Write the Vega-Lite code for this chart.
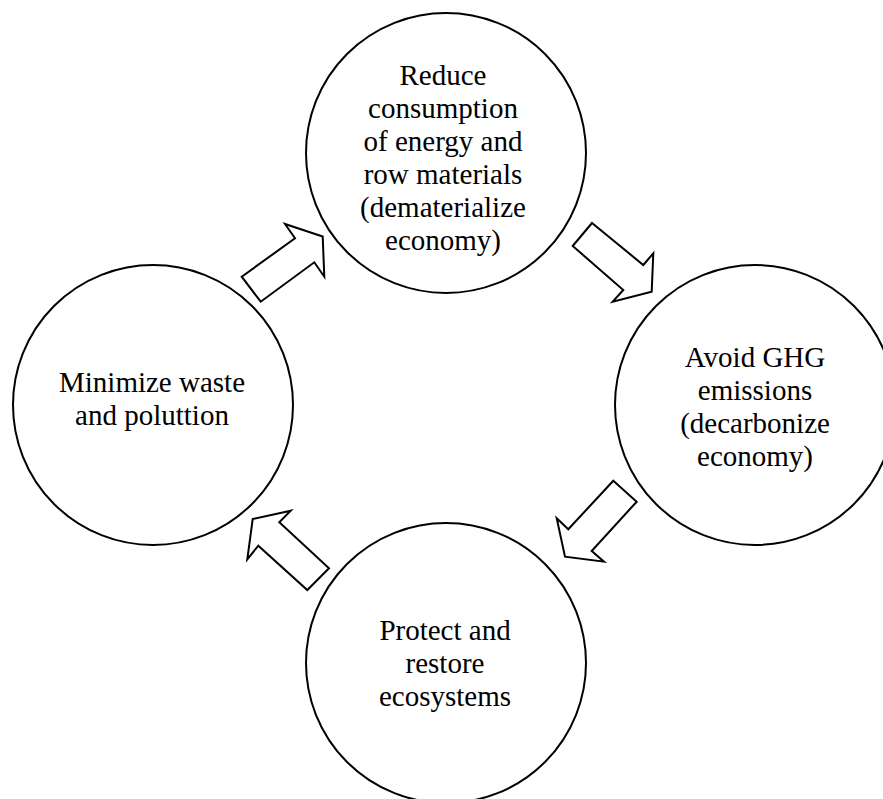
{
  "$schema": "https://vega.github.io/schema/vega-lite/v6.json",
  "width": 883,
  "height": 799,
  "autosize": {"type": "fit", "contains": "padding"},
  "padding": 0,
  "background": "white",
  "config": {"view": {"stroke": null}},
  "datasets": {
    "circles": [
      {"label": "Reduce\nconsumption\nof energy and\nrow materials\n(dematerialize\neconomy)", "x": 446, "y": 153, "tx": 443, "ty": 85},
      {"label": "Avoid GHG\nemissions\n(decarbonize\neconomy)", "x": 755, "y": 405, "tx": 755, "ty": 367},
      {"label": "Protect and\nrestore\necosystems", "x": 446, "y": 663, "tx": 445, "ty": 639.5},
      {"label": "Minimize waste\nand poluttion", "x": 153, "y": 405, "tx": 152, "ty": 392}
    ],
    "arrows": [
      {"arrow": "a1", "i": 0, "x": 241.7, "y": 276.7},
      {"arrow": "a1", "i": 1, "x": 295, "y": 238.3},
      {"arrow": "a1", "i": 2, "x": 285, "y": 224},
      {"arrow": "a1", "i": 3, "x": 322.7, "y": 236.5},
      {"arrow": "a1", "i": 4, "x": 324.3, "y": 276.7},
      {"arrow": "a1", "i": 5, "x": 314.3, "y": 262.3},
      {"arrow": "a1", "i": 6, "x": 260.7, "y": 301.7},
      {"arrow": "a2", "i": 0, "x": 592, "y": 223},
      {"arrow": "a2", "i": 1, "x": 643.3, "y": 265},
      {"arrow": "a2", "i": 2, "x": 653.3, "y": 253.3},
      {"arrow": "a2", "i": 3, "x": 651.7, "y": 291.7},
      {"arrow": "a2", "i": 4, "x": 612.7, "y": 301.7},
      {"arrow": "a2", "i": 5, "x": 623.3, "y": 290},
      {"arrow": "a2", "i": 6, "x": 572.7, "y": 246},
      {"arrow": "a3", "i": 0, "x": 613.3, "y": 480.7},
      {"arrow": "a3", "i": 1, "x": 636.7, "y": 501.7},
      {"arrow": "a3", "i": 2, "x": 591.7, "y": 551},
      {"arrow": "a3", "i": 3, "x": 604, "y": 561.7},
      {"arrow": "a3", "i": 4, "x": 565, "y": 556.7},
      {"arrow": "a3", "i": 5, "x": 556.7, "y": 518.3},
      {"arrow": "a3", "i": 6, "x": 568.3, "y": 529.3},
      {"arrow": "a4", "i": 0, "x": 329, "y": 568.3},
      {"arrow": "a4", "i": 1, "x": 307.3, "y": 590},
      {"arrow": "a4", "i": 2, "x": 258.3, "y": 545.7},
      {"arrow": "a4", "i": 3, "x": 247.3, "y": 559.3},
      {"arrow": "a4", "i": 4, "x": 252.7, "y": 519},
      {"arrow": "a4", "i": 5, "x": 290.7, "y": 510.7},
      {"arrow": "a4", "i": 6, "x": 279.3, "y": 522.3}
    ]
  },
  "layer": [
    {
      "data": {"name": "circles"},
      "mark": {"type": "point", "shape": "circle", "filled": false, "size": 78400, "stroke": "black", "strokeWidth": 2, "opacity": 1, "clip": true},
      "encoding": {
        "x": {"field": "x", "type": "quantitative", "scale": {"domain": [0, 883], "nice": false, "zero": false}, "axis": null},
        "y": {"field": "y", "type": "quantitative", "scale": {"domain": [0, 799], "nice": false, "zero": false, "reverse": true}, "axis": null}
      }
    },
    {
      "data": {"name": "circles"},
      "mark": {"type": "text", "font": "Liberation Serif", "fontSize": 29, "lineHeight": 33, "lineBreak": "\n", "align": "center", "baseline": "alphabetic", "color": "black"},
      "encoding": {
        "x": {"field": "tx", "type": "quantitative", "axis": null},
        "y": {"field": "ty", "type": "quantitative", "axis": null},
        "text": {"field": "label"}
      }
    },
    {
      "data": {"name": "arrows"},
      "mark": {"type": "line", "interpolate": "linear-closed", "stroke": "black", "strokeWidth": 2, "strokeJoin": "miter"},
      "encoding": {
        "x": {"field": "x", "type": "quantitative", "axis": null},
        "y": {"field": "y", "type": "quantitative", "axis": null},
        "detail": {"field": "arrow"},
        "order": {"field": "i", "type": "quantitative"}
      }
    }
  ]
}
